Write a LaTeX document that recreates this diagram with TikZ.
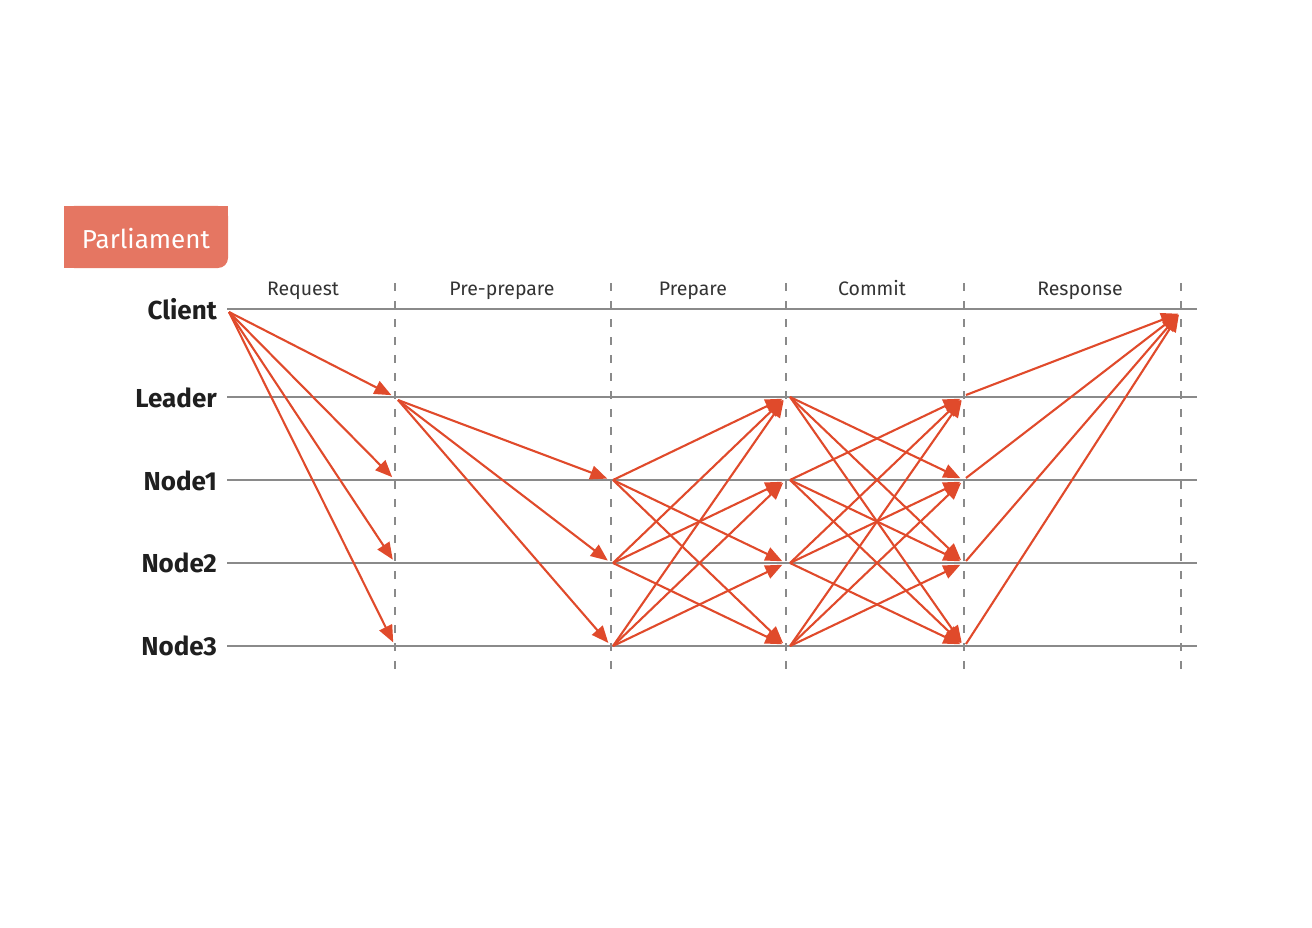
\documentclass[tikz,border=0pt]{standalone}
\usepackage{fontspec}
\setmainfont{Fira Sans}
\usetikzlibrary{arrows.meta}
\definecolor{arrowred}{HTML}{E04A2B}
\definecolor{boxred}{HTML}{E57662}
\definecolor{linegrey}{HTML}{8A8A8A}
\tikzset{
  msg/.style={draw=arrowred, line width=2.1pt, -{Triangle[length=17pt,width=14pt]}, shorten >=4pt},
  lifeline/.style={draw=linegrey, line width=2pt},
  phaseline/.style={draw=linegrey, line width=2pt, dash pattern=on 8pt off 10pt},
  actor/.style={anchor=east, inner sep=0pt, font=\fontsize{26}{30}\selectfont\bfseries, text=black!88},
  phase/.style={anchor=base, inner sep=0pt, font=\fontsize{19.5}{22}\selectfont, text=black!80},
}
\begin{document}
\begin{tikzpicture}[x=1pt,y=-1pt]
\useasboundingbox (0,0) rectangle (1312,928);
% title box
\path[fill=boxred, rounded corners=10pt] (64,206) -- (228,206) -- (228,268) -- (64,268) -- cycle;
\fill[boxred] (64,206) rectangle (218,268);
\fill[boxred] (64,206) rectangle (228,250);
\node[anchor=base, inner sep=0pt, text=white, font=\fontsize{26}{30}\selectfont] (title) at (146,248) {Parliament};
% lifelines
\foreach \n/\y in {C/309,L/397,N1/480,N2/563,N3/646}{
  \coordinate (\n-a) at (227,\y);
  \coordinate (\n-b) at (1197,\y);
  \draw[lifeline] (\n-a) -- (\n-b);
}
% phase separators
\foreach \i/\x in {1/395,2/611,3/786,4/964,5/1181}{
  \coordinate (top\i) at (\x,283);
  \coordinate (bot\i) at (\x,677);
  \draw[phaseline] (top\i) -- (bot\i);
}
% labels
\node[actor] (client) at (217,309) {Client};
\node[actor] (leader) at (217,398) {Leader};
\node[actor] (node1) at (217,481) {Node1};
\node[actor] (node2) at (217,563) {Node2};
\node[actor] (node3) at (217,646) {Node3};
\node[phase] (p1) at (303,295) {Request};
\node[phase] (p2) at (502,295) {Pre-prepare};
\node[phase] (p3) at (693,295) {Prepare};
\node[phase] (p4) at (872,295) {Commit};
\node[phase] (p5) at (1080,295) {Response};
% column points
\foreach \n/\y in {C/309,L/397,N1/480,N2/563,N3/646}{
  \coordinate (\n1) at (395,\y);
  \coordinate (\n2) at (611,\y);
  \coordinate (\n3) at (786,\y);
  \coordinate (\n4) at (964,\y);
}
% start points
\coordinate (Cs) at (229,312);
\coordinate (Ls1) at (398,400);
\foreach \n/\y in {N1/480,N2/563,N3/646}{
  \coordinate (\n s2) at (613,\y);
}
\foreach \n/\y in {L/397,N1/480,N2/563,N3/646}{
  \coordinate (\n s3) at (790,\y);
  \coordinate (\n s4) at (966,\y-2);
}
\coordinate (resp) at (1180,313);
% Request
\foreach \t in {L,N1,N2,N3}{ \draw[msg] (Cs) -- (\t1); }
% Pre-prepare
\foreach \t in {N1,N2,N3}{ \draw[msg] (Ls1) -- (\t2); }
% Prepare
\foreach \s/\t in {N1/L,N1/N2,N1/N3,N2/L,N2/N1,N2/N3,N3/L,N3/N1,N3/N2}{
  \draw[msg] (\s s2) -- (\t3);
}
% Commit
\foreach \s/\t in {L/N1,L/N2,L/N3,N1/L,N1/N2,N1/N3,N2/L,N2/N1,N2/N3,N3/L,N3/N1,N3/N2}{
  \draw[msg] (\s s3) -- (\t4);
}
% Response
\foreach \s in {L,N1,N2,N3}{ \draw[msg, shorten >=2pt] (\s s4) -- (resp); }
\end{tikzpicture}
\end{document}
